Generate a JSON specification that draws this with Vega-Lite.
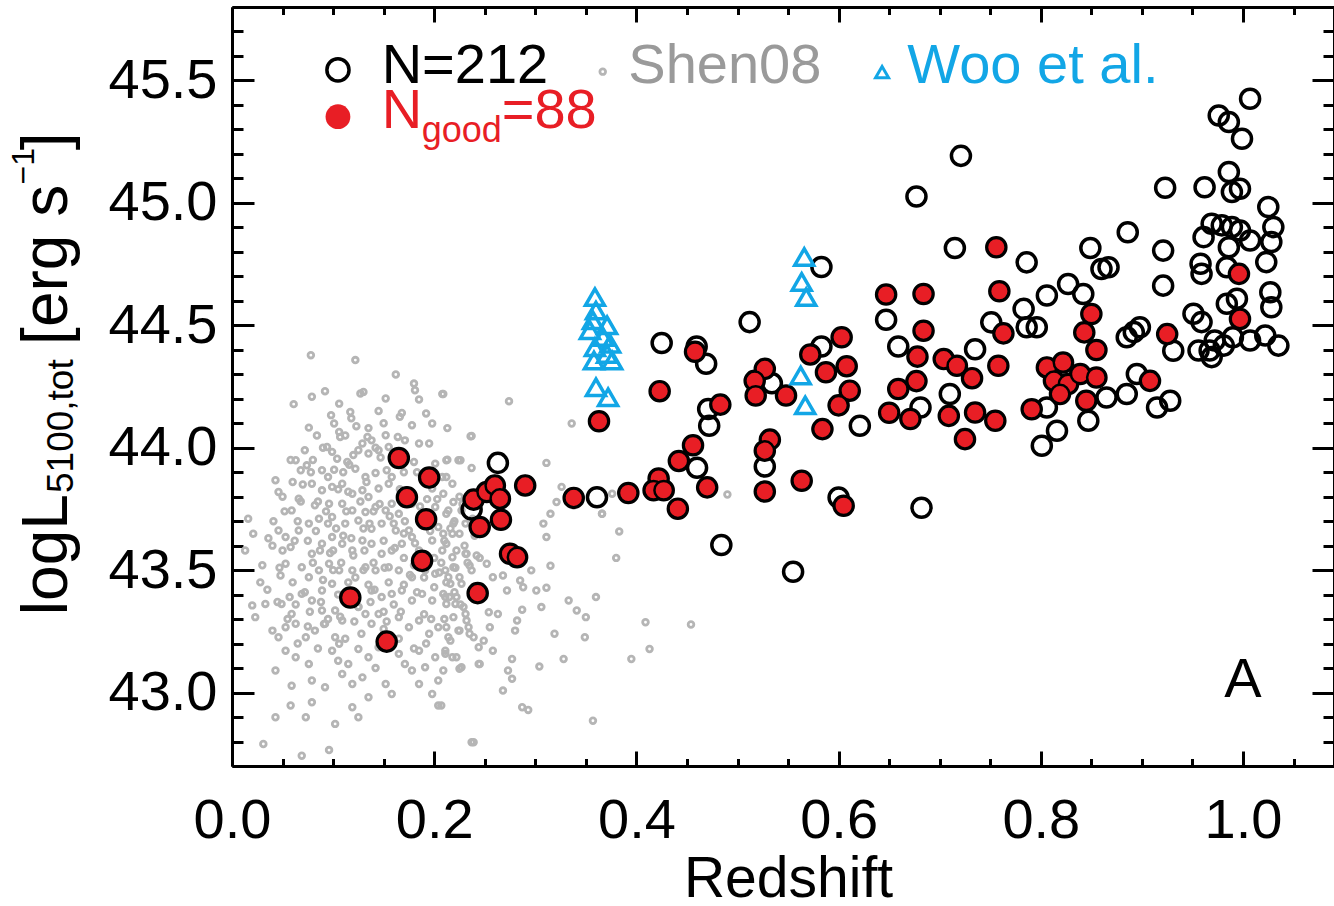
{
"$schema": "https://vega.github.io/schema/vega-lite/v6.json",
"autosize": {"type": "none"},
"padding": {"left": 232, "top": 7, "right": 0, "bottom": 140},
"width": 1102,
"height": 759,
"background": "white",
"config": {"view": {"stroke": null}},
"datasets": {
"one": [{"k": 1}],
"shen08": [
{"z":0.078,"L":44.378},{"z":0.122,"L":44.358},{"z":0.162,"L":44.299},{"z":0.180,"L":44.262},{"z":0.181,"L":44.235},{"z":0.130,"L":44.228},{"z":0.127,"L":44.221},{"z":0.092,"L":44.231},{"z":0.079,"L":44.208},{"z":0.061,"L":44.178},{"z":0.152,"L":44.201},{"z":0.185,"L":44.197},{"z":0.208,"L":44.219},{"z":0.106,"L":44.180},{"z":0.117,"L":44.146},{"z":0.098,"L":44.133},{"z":0.101,"L":44.099},{"z":0.076,"L":44.082},{"z":0.123,"L":44.088},{"z":0.145,"L":44.150},{"z":0.168,"L":44.142},{"z":0.178,"L":44.092},{"z":0.198,"L":44.099},{"z":0.166,"L":44.126},{"z":0.106,"L":44.064},{"z":0.107,"L":44.044},{"z":0.236,"L":44.047},{"z":0.134,"L":44.044},{"z":0.129,"L":44.017},{"z":0.138,"L":44.030},{"z":0.152,"L":44.051},{"z":0.164,"L":44.044},{"z":0.185,"L":44.017},{"z":0.195,"L":44.017},{"z":0.094,"L":44.003},{"z":0.099,"L":43.983},{"z":0.125,"L":43.990},{"z":0.135,"L":43.976},{"z":0.145,"L":43.990},{"z":0.155,"L":44.003},{"z":0.063,"L":43.949},{"z":0.043,"L":43.867},{"z":0.046,"L":43.819},{"z":0.074,"L":43.928},{"z":0.068,"L":43.908},{"z":0.089,"L":43.908},{"z":0.104,"L":43.955},{"z":0.114,"L":43.942},{"z":0.122,"L":43.914},{"z":0.132,"L":43.880},{"z":0.142,"L":43.897},{"z":0.153,"L":43.908},{"z":0.180,"L":43.942},{"z":0.201,"L":43.935},{"z":0.213,"L":43.951},{"z":0.224,"L":43.949},{"z":0.237,"L":43.917},{"z":0.208,"L":43.880},{"z":0.218,"L":43.853},{"z":0.198,"L":43.833},{"z":0.079,"L":43.853},{"z":0.089,"L":43.826},{"z":0.099,"L":43.840},{"z":0.109,"L":43.853},{"z":0.119,"L":43.812},{"z":0.129,"L":43.826},{"z":0.135,"L":43.799},{"z":0.145,"L":43.833},{"z":0.155,"L":43.853},{"z":0.158,"L":43.771},{"z":0.066,"L":43.792},{"z":0.059,"L":43.744},{"z":0.082,"L":43.765},{"z":0.096,"L":43.771},{"z":0.109,"L":43.771},{"z":0.119,"L":43.744},{"z":0.132,"L":43.737},{"z":0.142,"L":43.758},{"z":0.152,"L":43.744},{"z":0.165,"L":43.730},{"z":0.178,"L":43.771},{"z":0.201,"L":43.758},{"z":0.214,"L":43.744},{"z":0.227,"L":43.744},{"z":0.016,"L":43.710},{"z":0.021,"L":43.649},{"z":0.013,"L":43.580},{"z":0.046,"L":43.662},{"z":0.053,"L":43.635},{"z":0.066,"L":43.662},{"z":0.076,"L":43.690},{"z":0.086,"L":43.710},{"z":0.099,"L":43.717},{"z":0.112,"L":43.690},{"z":0.125,"L":43.703},{"z":0.138,"L":43.669},{"z":0.148,"L":43.690},{"z":0.162,"L":43.662},{"z":0.175,"L":43.662},{"z":0.204,"L":43.676},{"z":0.218,"L":43.649},{"z":0.231,"L":43.690},{"z":0.053,"L":43.526},{"z":0.048,"L":43.478},{"z":0.058,"L":43.594},{"z":0.069,"L":43.512},{"z":0.079,"L":43.567},{"z":0.089,"L":43.608},{"z":0.099,"L":43.635},{"z":0.109,"L":43.608},{"z":0.119,"L":43.580},{"z":0.129,"L":43.621},{"z":0.138,"L":43.608},{"z":0.148,"L":43.567},{"z":0.158,"L":43.580},{"z":0.168,"L":43.608},{"z":0.178,"L":43.635},{"z":0.198,"L":43.621},{"z":0.208,"L":43.580},{"z":0.218,"L":43.553},{"z":0.231,"L":43.567},{"z":0.237,"L":43.499},{"z":0.076,"L":43.471},{"z":0.086,"L":43.499},{"z":0.096,"L":43.526},{"z":0.106,"L":43.499},{"z":0.119,"L":43.499},{"z":0.132,"L":43.512},{"z":0.142,"L":43.499},{"z":0.155,"L":43.512},{"z":0.165,"L":43.499},{"z":0.178,"L":43.471},{"z":0.191,"L":43.499},{"z":0.201,"L":43.485},{"z":0.214,"L":43.471},{"z":0.227,"L":43.444},{"z":0.020,"L":43.356},{"z":0.033,"L":43.362},{"z":0.023,"L":43.308},{"z":0.049,"L":43.362},{"z":0.059,"L":43.321},{"z":0.069,"L":43.403},{"z":0.079,"L":43.376},{"z":0.089,"L":43.417},{"z":0.099,"L":43.444},{"z":0.138,"L":43.417},{"z":0.148,"L":43.390},{"z":0.158,"L":43.403},{"z":0.168,"L":43.417},{"z":0.178,"L":43.376},{"z":0.188,"L":43.403},{"z":0.198,"L":43.376},{"z":0.211,"L":43.390},{"z":0.221,"L":43.362},{"z":0.231,"L":43.321},{"z":0.040,"L":43.253},{"z":0.046,"L":43.226},{"z":0.053,"L":43.267},{"z":0.063,"L":43.281},{"z":0.073,"L":43.226},{"z":0.082,"L":43.253},{"z":0.092,"L":43.281},{"z":0.102,"L":43.226},{"z":0.109,"L":43.294},{"z":0.132,"L":43.321},{"z":0.138,"L":43.281},{"z":0.145,"L":43.321},{"z":0.165,"L":43.308},{"z":0.175,"L":43.267},{"z":0.185,"L":43.294},{"z":0.195,"L":43.240},{"z":0.204,"L":43.267},{"z":0.214,"L":43.226},{"z":0.224,"L":43.253},{"z":0.234,"L":43.267},{"z":0.244,"L":43.185},{"z":0.053,"L":43.171},{"z":0.063,"L":43.144},{"z":0.076,"L":43.117},{"z":0.043,"L":43.090},{"z":0.059,"L":43.028},{"z":0.079,"L":43.049},{"z":0.079,"L":42.960},{"z":0.058,"L":42.947},{"z":0.043,"L":42.899},{"z":0.073,"L":42.899},{"z":0.102,"L":42.872},{"z":0.119,"L":42.940},{"z":0.125,"L":42.899},{"z":0.119,"L":43.035},{"z":0.129,"L":43.062},{"z":0.135,"L":42.981},{"z":0.152,"L":43.035},{"z":0.158,"L":42.994},{"z":0.165,"L":43.158},{"z":0.171,"L":43.117},{"z":0.185,"L":43.171},{"z":0.191,"L":43.103},{"z":0.201,"L":43.144},{"z":0.211,"L":43.171},{"z":0.218,"L":43.144},{"z":0.227,"L":43.103},{"z":0.244,"L":43.117},{"z":0.204,"L":43.049},{"z":0.198,"L":42.994},{"z":0.204,"L":42.947},{"z":0.031,"L":42.790},{"z":0.069,"L":42.742},{"z":0.096,"L":42.765},{"z":0.237,"L":42.797},{"z":0.115,"L":43.117},{"z":0.099,"L":43.171},{"z":0.106,"L":43.199},{"z":0.125,"L":43.178},{"z":0.135,"L":43.144},{"z":0.145,"L":43.185},{"z":0.155,"L":43.212},{"z":0.178,"L":43.090},{"z":0.185,"L":43.035},{"z":0.109,"L":43.076},{"z":0.092,"L":43.022},{"z":0.089,"L":43.335},{"z":0.102,"L":43.335},{"z":0.115,"L":43.362},{"z":0.125,"L":43.349},
{"z":0.070,"L":43.85},{"z":0.085,"L":43.78},{"z":0.095,"L":43.69},{"z":0.110,"L":43.64},{"z":0.120,"L":43.56},{"z":0.130,"L":43.67},{"z":0.140,"L":43.74},{"z":0.150,"L":43.62},{"z":0.160,"L":43.69},{"z":0.170,"L":43.55},{"z":0.175,"L":43.82},{"z":0.185,"L":43.58},{"z":0.190,"L":43.47},{"z":0.200,"L":43.55},{"z":0.210,"L":43.62},{"z":0.220,"L":43.70},{"z":0.225,"L":43.80},{"z":0.050,"L":43.58},{"z":0.060,"L":43.45},{"z":0.065,"L":43.70},{"z":0.075,"L":43.62},{"z":0.080,"L":43.53},{"z":0.090,"L":43.46},{"z":0.100,"L":43.58},{"z":0.105,"L":43.40},{"z":0.115,"L":43.45},{"z":0.125,"L":43.35},{"z":0.135,"L":43.44},{"z":0.140,"L":43.53},{"z":0.155,"L":43.45},{"z":0.160,"L":43.36},{"z":0.170,"L":43.44},{"z":0.180,"L":43.52},{"z":0.190,"L":43.32},{"z":0.200,"L":43.43},{"z":0.210,"L":43.30},{"z":0.220,"L":43.41},{"z":0.230,"L":43.60},{"z":0.240,"L":43.64},{"z":0.245,"L":43.55},{"z":0.030,"L":43.52},{"z":0.035,"L":43.42},{"z":0.040,"L":43.60},{"z":0.045,"L":43.37},{"z":0.055,"L":43.30},{"z":0.065,"L":43.20},{"z":0.075,"L":43.27},{"z":0.085,"L":43.18},{"z":0.095,"L":43.30},{"z":0.105,"L":43.13},{"z":0.112,"L":43.22},{"z":0.128,"L":43.24},{"z":0.142,"L":43.10},{"z":0.150,"L":43.26},{"z":0.165,"L":43.22},{"z":0.180,"L":43.18},{"z":0.192,"L":43.20},{"z":0.095,"L":43.88},{"z":0.110,"L":43.90},{"z":0.120,"L":43.97},{"z":0.160,"L":43.95},{"z":0.170,"L":43.90},{"z":0.115,"L":43.82},{"z":0.105,"L":43.83},{"z":0.080,"L":43.95},{"z":0.090,"L":44.00},{"z":0.135,"L":44.08},{"z":0.150,"L":44.10},{"z":0.112,"L":44.05},{"z":0.060,"L":43.86},{"z":0.050,"L":43.80},{"z":0.100,"L":43.50},{"z":0.130,"L":43.50},{"z":0.150,"L":43.33},{"z":0.170,"L":43.65},{"z":0.205,"L":43.49},{"z":0.215,"L":43.39},
{"z":0.062,"L":43.62},{"z":0.072,"L":43.41},{"z":0.083,"L":43.66},{"z":0.088,"L":43.37},{"z":0.093,"L":43.74},{"z":0.097,"L":43.57},{"z":0.103,"L":43.67},{"z":0.108,"L":43.53},{"z":0.113,"L":43.74},{"z":0.118,"L":43.63},{"z":0.122,"L":43.47},{"z":0.127,"L":43.78},{"z":0.131,"L":43.58},{"z":0.136,"L":43.69},{"z":0.141,"L":43.42},{"z":0.146,"L":43.77},{"z":0.151,"L":43.51},{"z":0.156,"L":43.72},{"z":0.161,"L":43.59},{"z":0.166,"L":43.83},{"z":0.171,"L":43.70},{"z":0.176,"L":43.48},{"z":0.181,"L":43.61},{"z":0.186,"L":43.76},{"z":0.196,"L":43.66},{"z":0.203,"L":43.79},{"z":0.207,"L":43.53},{"z":0.216,"L":43.67},{"z":0.221,"L":43.51},{"z":0.228,"L":43.77},{"z":0.233,"L":43.53},{"z":0.238,"L":43.71},{"z":0.068,"L":43.78},{"z":0.078,"L":43.90},{"z":0.087,"L":43.58},{"z":0.101,"L":43.91},{"z":0.116,"L":43.93},{"z":0.133,"L":43.86},{"z":0.147,"L":43.96},{"z":0.158,"L":43.88},{"z":0.183,"L":43.90},{"z":0.193,"L":43.79},{"z":0.063,"L":43.36},{"z":0.077,"L":43.33},{"z":0.091,"L":43.28},{"z":0.107,"L":43.31},{"z":0.121,"L":43.29},{"z":0.137,"L":43.37},{"z":0.153,"L":43.29},{"z":0.167,"L":43.33},{"z":0.183,"L":43.41},{"z":0.197,"L":43.30},{"z":0.212,"L":43.45},{"z":0.226,"L":43.36},{"z":0.041,"L":43.70},{"z":0.036,"L":43.63},{"z":0.028,"L":43.45},{"z":0.047,"L":43.51},{"z":0.057,"L":43.39},{"z":0.052,"L":43.74},{"z":0.084,"L":44.05},{"z":0.118,"L":44.12},{"z":0.142,"L":44.00},{"z":0.171,"L":44.03},{"z":0.192,"L":44.14},{"z":0.213,"L":44.08},{"z":0.072,"L":43.99},{"z":0.058,"L":43.95},
{"z":0.209,"L":44.219},{"z":0.237,"L":44.048},{"z":0.212,"L":43.949},{"z":0.226,"L":43.949},{"z":0.212,"L":43.880},{"z":0.209,"L":43.812},{"z":0.219,"L":43.778},{"z":0.212,"L":43.730},{"z":0.219,"L":43.690},{"z":0.209,"L":43.649},{"z":0.225,"L":43.649},{"z":0.212,"L":43.608},{"z":0.222,"L":43.580},{"z":0.232,"L":43.567},{"z":0.242,"L":43.560},{"z":0.252,"L":43.526},{"z":0.235,"L":43.519},{"z":0.219,"L":43.512},{"z":0.211,"L":43.499},{"z":0.225,"L":43.471},{"z":0.216,"L":43.444},{"z":0.209,"L":43.403},{"z":0.222,"L":43.390},{"z":0.212,"L":43.362},{"z":0.229,"L":43.349},{"z":0.219,"L":43.308},{"z":0.232,"L":43.294},{"z":0.212,"L":43.267},{"z":0.225,"L":43.253},{"z":0.235,"L":43.240},{"z":0.216,"L":43.212},{"z":0.211,"L":43.158},{"z":0.222,"L":43.144},{"z":0.209,"L":43.090},{"z":0.225,"L":43.097},{"z":0.239,"L":43.226},{"z":0.249,"L":43.212},{"z":0.258,"L":43.171},{"z":0.254,"L":43.328},{"z":0.263,"L":43.321},{"z":0.249,"L":43.417},{"z":0.272,"L":43.417},{"z":0.268,"L":43.478},{"z":0.258,"L":43.471},{"z":0.285,"L":43.458},{"z":0.288,"L":43.430},{"z":0.296,"L":43.499},{"z":0.301,"L":43.417},{"z":0.306,"L":43.349},{"z":0.311,"L":43.428},{"z":0.315,"L":43.518},{"z":0.280,"L":43.253},{"z":0.277,"L":43.137},{"z":0.273,"L":43.090},{"z":0.277,"L":43.056},{"z":0.268,"L":43.008},{"z":0.287,"L":42.940},{"z":0.293,"L":42.929},{"z":0.239,"L":42.797},{"z":0.207,"L":42.947},{"z":0.245,"L":43.117},{"z":0.255,"L":43.267},{"z":0.274,"L":44.190},{"z":0.336,"L":44.099},{"z":0.311,"L":43.938},{"z":0.326,"L":43.840},{"z":0.321,"L":43.778},{"z":0.366,"L":43.730},{"z":0.315,"L":43.730},{"z":0.308,"L":43.690},{"z":0.311,"L":43.635},{"z":0.383,"L":43.658},{"z":0.380,"L":43.550},{"z":0.333,"L":43.376},{"z":0.360,"L":43.390},{"z":0.341,"L":43.335},{"z":0.350,"L":43.308},{"z":0.287,"L":43.338},{"z":0.282,"L":43.294},{"z":0.319,"L":43.240},{"z":0.349,"L":43.226},{"z":0.409,"L":43.287},{"z":0.454,"L":43.278},{"z":0.413,"L":43.178},{"z":0.395,"L":43.137},{"z":0.328,"L":43.137},{"z":0.304,"L":43.106},{"z":0.357,"L":42.885},{"z":0.376,"L":43.812},{"z":0.366,"L":43.730},{"z":0.490,"L":43.809}
],
"agn": [
{"z":0.165,"L":43.958,"good":true},{"z":0.195,"L":43.878,"good":true},{"z":0.173,"L":43.798,"good":true},{"z":0.192,"L":43.708,"good":true},{"z":0.188,"L":43.538,"good":true},{"z":0.117,"L":43.388,"good":true},{"z":0.153,"L":43.208,"good":true},{"z":0.239,"L":43.788,"good":true},{"z":0.252,"L":43.819,"good":true},{"z":0.260,"L":43.846,"good":true},{"z":0.265,"L":43.792,"good":true},{"z":0.245,"L":43.676,"good":true},{"z":0.266,"L":43.706,"good":true},{"z":0.290,"L":43.846,"good":true},{"z":0.275,"L":43.567,"good":true},{"z":0.282,"L":43.553,"good":true},{"z":0.243,"L":43.406,"good":true},{"z":0.338,"L":43.795,"good":true},{"z":0.392,"L":43.815,"good":true},{"z":0.422,"L":43.874,"good":true},{"z":0.417,"L":43.826,"good":true},{"z":0.441,"L":43.751,"good":true},{"z":0.442,"L":43.946,"good":true},{"z":0.456,"L":44.010,"good":true},{"z":0.363,"L":44.108,"good":true},{"z":0.423,"L":44.231,"good":true},{"z":0.458,"L":44.392,"good":true},{"z":0.483,"L":44.176,"good":true},{"z":0.427,"L":43.826,"good":true},{"z":0.470,"L":43.838,"good":true},{"z":0.527,"L":44.322,"good":true},{"z":0.517,"L":44.273,"good":true},{"z":0.518,"L":44.213,"good":true},{"z":0.548,"L":44.213,"good":true},{"z":0.532,"L":44.033,"good":true},{"z":0.527,"L":43.988,"good":true},{"z":0.527,"L":43.821,"good":true},{"z":0.5635,"L":43.865,"good":true},{"z":0.572,"L":44.381,"good":true},{"z":0.603,"L":44.451,"good":true},{"z":0.5875,"L":44.308,"good":true},{"z":0.608,"L":44.333,"good":true},{"z":0.611,"L":44.233,"good":true},{"z":0.600,"L":44.173,"good":true},{"z":0.584,"L":44.076,"good":true},{"z":0.605,"L":43.763,"good":true},{"z":0.647,"L":44.626,"good":true},{"z":0.659,"L":44.240,"good":true},{"z":0.650,"L":44.143,"good":true},{"z":0.671,"L":44.117,"good":true},{"z":0.756,"L":44.819,"good":true},{"z":0.684,"L":44.628,"good":true},{"z":0.759,"L":44.639,"good":true},{"z":0.684,"L":44.478,"good":true},{"z":0.763,"L":44.467,"good":true},{"z":0.678,"L":44.372,"good":true},{"z":0.704,"L":44.362,"good":true},{"z":0.717,"L":44.335,"good":true},{"z":0.732,"L":44.284,"good":true},{"z":0.758,"L":44.335,"good":true},{"z":0.677,"L":44.272,"good":true},{"z":0.709,"L":44.130,"good":true},{"z":0.735,"L":44.144,"good":true},{"z":0.755,"L":44.110,"good":true},{"z":0.725,"L":44.035,"good":true},{"z":0.850,"L":44.546,"good":true},{"z":0.843,"L":44.471,"good":true},{"z":0.855,"L":44.399,"good":true},{"z":0.806,"L":44.328,"good":true},{"z":0.822,"L":44.348,"good":true},{"z":0.813,"L":44.273,"good":true},{"z":0.827,"L":44.260,"good":true},{"z":0.839,"L":44.301,"good":true},{"z":0.855,"L":44.287,"good":true},{"z":0.819,"L":44.219,"good":true},{"z":0.845,"L":44.192,"good":true},{"z":0.791,"L":44.157,"good":true},{"z":0.908,"L":44.273,"good":true},{"z":0.925,"L":44.464,"good":true},{"z":0.996,"L":44.710,"good":true},{"z":0.997,"L":44.526,"good":true},
{"z":0.263,"L":43.938,"good":false},{"z":0.361,"L":43.798,"good":false},{"z":0.425,"L":44.428,"good":false},{"z":0.460,"L":43.918,"good":false},{"z":0.237,"L":43.748,"good":false},{"z":0.4596,"L":44.413,"good":false},{"z":0.469,"L":44.343,"good":false},{"z":0.472,"L":44.090,"good":false},{"z":0.471,"L":44.158,"good":false},{"z":0.484,"L":43.603,"good":false},{"z":0.512,"L":44.513,"good":false},{"z":0.534,"L":44.263,"good":false},{"z":0.527,"L":43.923,"good":false},{"z":0.583,"L":44.738,"good":false},{"z":0.583,"L":44.413,"good":false},{"z":0.555,"L":43.493,"good":false},{"z":0.600,"L":43.797,"good":false},{"z":0.621,"L":44.090,"good":false},{"z":0.647,"L":44.523,"good":false},{"z":0.659,"L":44.413,"good":false},{"z":0.721,"L":45.192,"good":false},{"z":0.677,"L":45.026,"good":false},{"z":0.715,"L":44.816,"good":false},{"z":0.786,"L":44.757,"good":false},{"z":0.923,"L":45.062,"good":false},{"z":0.886,"L":44.880,"good":false},{"z":0.849,"L":44.816,"good":false},{"z":0.860,"L":44.730,"good":false},{"z":0.867,"L":44.737,"good":false},{"z":0.921,"L":44.805,"good":false},{"z":0.921,"L":44.662,"good":false},{"z":0.806,"L":44.622,"good":false},{"z":0.827,"L":44.669,"good":false},{"z":0.842,"L":44.628,"good":false},{"z":0.783,"L":44.567,"good":false},{"z":0.751,"L":44.512,"good":false},{"z":0.796,"L":44.492,"good":false},{"z":0.786,"L":44.492,"good":false},{"z":0.735,"L":44.402,"good":false},{"z":0.710,"L":44.219,"good":false},{"z":0.681,"L":44.164,"good":false},{"z":0.885,"L":44.451,"good":false},{"z":0.892,"L":44.472,"good":false},{"z":0.898,"L":44.492,"good":false},{"z":0.895,"L":44.301,"good":false},{"z":0.885,"L":44.219,"good":false},{"z":0.915,"L":44.164,"good":false},{"z":0.928,"L":44.192,"good":false},{"z":0.931,"L":44.396,"good":false},{"z":0.806,"L":44.164,"good":false},{"z":0.865,"L":44.205,"good":false},{"z":0.847,"L":44.110,"good":false},{"z":0.816,"L":44.069,"good":false},{"z":0.801,"L":44.008,"good":false},{"z":0.682,"L":43.755,"good":false},
{"z":1.007,"L":45.425,"good":false},{"z":0.976,"L":45.357,"good":false},{"z":0.986,"L":45.330,"good":false},{"z":0.999,"L":45.262,"good":false},{"z":0.986,"L":45.126,"good":false},{"z":0.962,"L":45.064,"good":false},{"z":0.989,"L":45.044,"good":false},{"z":0.997,"L":45.058,"good":false},{"z":1.025,"L":44.983,"good":false},{"z":1.030,"L":44.901,"good":false},{"z":1.028,"L":44.840,"good":false},{"z":1.023,"L":44.758,"good":false},{"z":0.969,"L":44.915,"good":false},{"z":0.979,"L":44.908,"good":false},{"z":0.989,"L":44.901,"good":false},{"z":0.997,"L":44.887,"good":false},{"z":1.007,"L":44.846,"good":false},{"z":0.961,"L":44.860,"good":false},{"z":0.986,"L":44.819,"good":false},{"z":0.958,"L":44.751,"good":false},{"z":0.959,"L":44.710,"good":false},{"z":0.984,"L":44.737,"good":false},{"z":1.027,"L":44.635,"good":false},{"z":1.028,"L":44.574,"good":false},{"z":0.984,"L":44.588,"good":false},{"z":0.994,"L":44.608,"good":false},{"z":0.951,"L":44.547,"good":false},{"z":0.959,"L":44.513,"good":false},{"z":0.956,"L":44.397,"good":false},{"z":0.967,"L":44.397,"good":false},{"z":0.972,"L":44.438,"good":false},{"z":0.981,"L":44.417,"good":false},{"z":0.990,"L":44.451,"good":false},{"z":1.007,"L":44.438,"good":false},{"z":1.022,"L":44.458,"good":false},{"z":1.035,"L":44.417,"good":false},{"z":0.969,"L":44.370,"good":false}
],
"woo": [
{"z":0.359,"L":44.615},{"z":0.360,"L":44.560},{"z":0.357,"L":44.520},{"z":0.371,"L":44.500},{"z":0.354,"L":44.480},{"z":0.367,"L":44.452},{"z":0.374,"L":44.424},{"z":0.359,"L":44.410},{"z":0.371,"L":44.383},{"z":0.358,"L":44.356},{"z":0.376,"L":44.356},{"z":0.360,"L":44.247},{"z":0.372,"L":44.206},{"z":0.566,"L":44.779},{"z":0.5635,"L":44.677},{"z":0.568,"L":44.615},{"z":0.5625,"L":44.295},{"z":0.567,"L":44.173}
]
},
"resolve": {"axis": {"x": "independent", "y": "independent"}},
"layer": [
{
"data": {"name": "shen08"},
"mark": {"type": "point", "shape": "circle", "filled": false, "stroke": "#b5b5b5", "strokeWidth": 2.8, "size": 32, "opacity": 1},
"encoding": {
"x": {"field": "z", "type": "quantitative", "scale": {"domain": [0, 1.09], "nice": false, "zero": false},
"axis": {"orient": "bottom", "values": [0,0.05,0.1,0.15,0.2,0.25,0.3,0.35,0.4,0.45,0.5,0.55,0.6,0.65,0.7,0.75,0.8,0.85,0.9,0.95,1,1.05],
"labelExpr": "round(datum.value*20) % 4 == 0 ? format(datum.value, '.1f') : ''",
"labelFont": "Liberation Sans", "labelFontSize": 56, "labelColor": "black", "labelPadding": 42, "labelFlush": false, "labelOverlap": false, "labelBound": false, "labelAngle": 0,
"tickSize": {"condition": {"test": "round(datum.value*20) % 4 == 0", "value": -15}, "value": -7.5},
"tickWidth": 3, "tickColor": "black", "domainColor": "black", "domainWidth": 3, "grid": false,
"title": "Redshift", "titleFont": "Liberation Sans", "titleFontSize": 57, "titleFontWeight": "normal", "titleColor": "black", "titlePadding": -4, "titleX": 556}},
"y": {"field": "L", "type": "quantitative", "scale": {"domain": [42.7, 45.8], "nice": false, "zero": false},
"axis": {"orient": "left", "values": [42.7,42.8,42.9,43,43.1,43.2,43.3,43.4,43.5,43.6,43.7,43.8,43.9,44,44.1,44.2,44.3,44.4,44.5,44.6,44.7,44.8,44.9,45,45.1,45.2,45.3,45.4,45.5,45.6,45.7,45.8],
"labelExpr": "round(datum.value*10) % 5 == 0 ? format(datum.value, '.1f') : ''",
"labelFont": "Liberation Sans", "labelFontSize": 56, "labelColor": "black", "labelPadding": 37, "labelFlush": false, "labelOverlap": false, "labelBound": false,
"tickSize": {"condition": {"test": "round(datum.value*10) % 5 == 0", "value": -22}, "value": -11},
"tickWidth": 3, "tickColor": "black", "domainColor": "black", "domainWidth": 3, "grid": false, "title": null}}
}
},
{
"data": {"name": "agn"},
"mark": {"type": "point", "shape": "circle", "filled": false, "stroke": "black", "strokeWidth": 3.5, "size": 363, "opacity": 1},
"encoding": {
"x": {"field": "z", "type": "quantitative", "scale": {"domain": [0, 1.09], "nice": false, "zero": false},
"axis": {"orient": "top", "values": [0,0.05,0.1,0.15,0.2,0.25,0.3,0.35,0.4,0.45,0.5,0.55,0.6,0.65,0.7,0.75,0.8,0.85,0.9,0.95,1,1.05], "labels": false,
"tickSize": {"condition": {"test": "round(datum.value*20) % 4 == 0", "value": -15}, "value": -7.5},
"tickWidth": 3, "tickColor": "black", "domainColor": "black", "domainWidth": 3, "grid": false, "title": null}},
"y": {"field": "L", "type": "quantitative", "scale": {"domain": [42.7, 45.8], "nice": false, "zero": false},
"axis": {"orient": "right", "values": [42.7,42.8,42.9,43,43.1,43.2,43.3,43.4,43.5,43.6,43.7,43.8,43.9,44,44.1,44.2,44.3,44.4,44.5,44.6,44.7,44.8,44.9,45,45.1,45.2,45.3,45.4,45.5,45.6,45.7,45.8], "labels": false,
"tickSize": {"condition": {"test": "round(datum.value*10) % 5 == 0", "value": -22}, "value": -11},
"tickWidth": 3, "tickColor": "black", "domainColor": "black", "domainWidth": 3, "grid": false, "title": null}}
}
},
{
"data": {"name": "agn"},
"transform": [{"filter": "datum.good"}],
"mark": {"type": "point", "shape": "circle", "filled": true, "fill": "#E81E25", "stroke": "black", "strokeWidth": 2.5, "size": 346, "opacity": 1},
"encoding": {
"x": {"field": "z", "type": "quantitative", "scale": {"domain": [0, 1.09], "nice": false, "zero": false}, "axis": null},
"y": {"field": "L", "type": "quantitative", "scale": {"domain": [42.7, 45.8], "nice": false, "zero": false}, "axis": null}
}
},
{
"data": {"name": "woo"},
"mark": {"type": "point", "shape": "triangle-up", "filled": false, "stroke": "#12A6E6", "strokeWidth": 3.5, "size": 360, "opacity": 1},
"encoding": {
"x": {"field": "z", "type": "quantitative", "scale": {"domain": [0, 1.09], "nice": false, "zero": false}, "axis": null},
"y": {"field": "L", "type": "quantitative", "scale": {"domain": [42.7, 45.8], "nice": false, "zero": false}, "axis": null}
}
},
{
"data": {"name": "one"},
"mark": {"type": "point", "shape": "circle", "filled": false, "stroke": "black", "strokeWidth": 3.5, "size": 490, "opacity": 1},
"encoding": {
"x": {"datum": 0.1048, "type": "quantitative", "scale": {"domain": [0, 1.09], "nice": false, "zero": false}, "axis": null},
"y": {"datum": 45.543, "type": "quantitative", "scale": {"domain": [42.7, 45.8], "nice": false, "zero": false}, "axis": null}
}
},
{
"data": {"name": "one"},
"mark": {"type": "point", "shape": "circle", "filled": true, "fill": "#E81E25", "strokeWidth": 0, "size": 615, "opacity": 1},
"encoding": {
"x": {"datum": 0.1048, "type": "quantitative", "scale": {"domain": [0, 1.09], "nice": false, "zero": false}, "axis": null},
"y": {"datum": 45.352, "type": "quantitative", "scale": {"domain": [42.7, 45.8], "nice": false, "zero": false}, "axis": null}
}
},
{
"data": {"name": "one"},
"mark": {"type": "point", "shape": "circle", "filled": false, "stroke": "#b5b5b5", "strokeWidth": 2.8, "size": 32, "opacity": 1},
"encoding": {
"x": {"datum": 0.3667, "type": "quantitative", "scale": {"domain": [0, 1.09], "nice": false, "zero": false}, "axis": null},
"y": {"datum": 45.536, "type": "quantitative", "scale": {"domain": [42.7, 45.8], "nice": false, "zero": false}, "axis": null}
}
},
{
"data": {"name": "one"},
"mark": {"type": "point", "shape": "triangle-up", "filled": false, "stroke": "#12A6E6", "strokeWidth": 3, "size": 170, "opacity": 1},
"encoding": {
"x": {"datum": 0.643, "type": "quantitative", "scale": {"domain": [0, 1.09], "nice": false, "zero": false}, "axis": null},
"y": {"datum": 45.534, "type": "quantitative", "scale": {"domain": [42.7, 45.8], "nice": false, "zero": false}, "axis": null}
}
},
{
"data": {"name": "one"},
"mark": {"type": "text", "font": "Liberation Sans", "fontSize": 56, "align": "left", "baseline": "alphabetic", "color": "black"},
"encoding": {
"x": {"datum": 0.148, "type": "quantitative", "scale": {"domain": [0, 1.09], "nice": false, "zero": false}, "axis": null},
"y": {"datum": 45.488, "type": "quantitative", "scale": {"domain": [42.7, 45.8], "nice": false, "zero": false}, "axis": null},
"text": {"value": "N=212"}
}
},
{
"data": {"name": "one"},
"mark": {"type": "text", "font": "Liberation Sans", "fontSize": 56, "align": "left", "baseline": "alphabetic", "color": "#9a9a9a"},
"encoding": {
"x": {"datum": 0.392, "type": "quantitative", "scale": {"domain": [0, 1.09], "nice": false, "zero": false}, "axis": null},
"y": {"datum": 45.488, "type": "quantitative", "scale": {"domain": [42.7, 45.8], "nice": false, "zero": false}, "axis": null},
"text": {"value": "Shen08"}
}
},
{
"data": {"name": "one"},
"mark": {"type": "text", "font": "Liberation Sans", "fontSize": 56, "align": "left", "baseline": "alphabetic", "color": "#12A6E6"},
"encoding": {
"x": {"datum": 0.668, "type": "quantitative", "scale": {"domain": [0, 1.09], "nice": false, "zero": false}, "axis": null},
"y": {"datum": 45.488, "type": "quantitative", "scale": {"domain": [42.7, 45.8], "nice": false, "zero": false}, "axis": null},
"text": {"value": "Woo et al."}
}
},
{
"data": {"name": "one"},
"mark": {"type": "text", "font": "Liberation Sans", "fontSize": 56, "align": "left", "baseline": "alphabetic", "color": "#E81E25"},
"encoding": {
"x": {"datum": 0.148, "type": "quantitative", "scale": {"domain": [0, 1.09], "nice": false, "zero": false}, "axis": null},
"y": {"datum": 45.304, "type": "quantitative", "scale": {"domain": [42.7, 45.8], "nice": false, "zero": false}, "axis": null},
"text": {"value": "N"}
}
},
{
"data": {"name": "one"},
"mark": {"type": "text", "font": "Liberation Sans", "fontSize": 36, "align": "left", "baseline": "alphabetic", "color": "#E81E25"},
"encoding": {
"x": {"datum": 0.1876, "type": "quantitative", "scale": {"domain": [0, 1.09], "nice": false, "zero": false}, "axis": null},
"y": {"datum": 45.249, "type": "quantitative", "scale": {"domain": [42.7, 45.8], "nice": false, "zero": false}, "axis": null},
"text": {"value": "good"}
}
},
{
"data": {"name": "one"},
"mark": {"type": "text", "font": "Liberation Sans", "fontSize": 56, "align": "left", "baseline": "alphabetic", "color": "#E81E25"},
"encoding": {
"x": {"datum": 0.2668, "type": "quantitative", "scale": {"domain": [0, 1.09], "nice": false, "zero": false}, "axis": null},
"y": {"datum": 45.304, "type": "quantitative", "scale": {"domain": [42.7, 45.8], "nice": false, "zero": false}, "axis": null},
"text": {"value": "=88"}
}
},
{
"data": {"name": "one"},
"mark": {"type": "text", "font": "Liberation Sans", "fontSize": 56, "align": "center", "baseline": "alphabetic", "color": "black"},
"encoding": {
"x": {"datum": 1.0, "type": "quantitative", "scale": {"domain": [0, 1.09], "nice": false, "zero": false}, "axis": null},
"y": {"datum": 42.981, "type": "quantitative", "scale": {"domain": [42.7, 45.8], "nice": false, "zero": false}, "axis": null},
"text": {"value": "A"}
}
},
{
"data": {"name": "one"},
"mark": {"type": "text", "font": "Liberation Sans", "fontSize": 64, "angle": 270, "align": "left", "baseline": "alphabetic", "color": "black"},
"encoding": {
"x": {"datum": -0.1632, "type": "quantitative", "scale": {"domain": [0, 1.09], "nice": false, "zero": false}, "axis": null},
"y": {"datum": 43.316, "type": "quantitative", "scale": {"domain": [42.7, 45.8], "nice": false, "zero": false}, "axis": null},
"text": {"value": "logL"}
}
},
{
"data": {"name": "one"},
"mark": {"type": "text", "font": "Liberation Sans", "fontSize": 37, "angle": 270, "align": "left", "baseline": "alphabetic", "color": "black"},
"encoding": {
"x": {"datum": -0.1573, "type": "quantitative", "scale": {"domain": [0, 1.09], "nice": false, "zero": false}, "axis": null},
"y": {"datum": 43.815, "type": "quantitative", "scale": {"domain": [42.7, 45.8], "nice": false, "zero": false}, "axis": null},
"text": {"value": "5100,tot"}
}
},
{
"data": {"name": "one"},
"mark": {"type": "text", "font": "Liberation Sans", "fontSize": 64, "angle": 270, "align": "left", "baseline": "alphabetic", "color": "black"},
"encoding": {
"x": {"datum": -0.1632, "type": "quantitative", "scale": {"domain": [0, 1.09], "nice": false, "zero": false}, "axis": null},
"y": {"datum": 44.42, "type": "quantitative", "scale": {"domain": [42.7, 45.8], "nice": false, "zero": false}, "axis": null},
"text": {"value": "[erg s"}
}
},
{
"data": {"name": "one"},
"mark": {"type": "text", "font": "Liberation Sans", "fontSize": 32, "angle": 270, "align": "left", "baseline": "alphabetic", "color": "black"},
"encoding": {
"x": {"datum": -0.1958, "type": "quantitative", "scale": {"domain": [0, 1.09], "nice": false, "zero": false}, "axis": null},
"y": {"datum": 45.075, "type": "quantitative", "scale": {"domain": [42.7, 45.8], "nice": false, "zero": false}, "axis": null},
"text": {"value": "−1"}
}
},
{
"data": {"name": "one"},
"mark": {"type": "text", "font": "Liberation Sans", "fontSize": 64, "angle": 270, "align": "left", "baseline": "alphabetic", "color": "black"},
"encoding": {
"x": {"datum": -0.1632, "type": "quantitative", "scale": {"domain": [0, 1.09], "nice": false, "zero": false}, "axis": null},
"y": {"datum": 45.215, "type": "quantitative", "scale": {"domain": [42.7, 45.8], "nice": false, "zero": false}, "axis": null},
"text": {"value": "]"}
}
}
]
}
